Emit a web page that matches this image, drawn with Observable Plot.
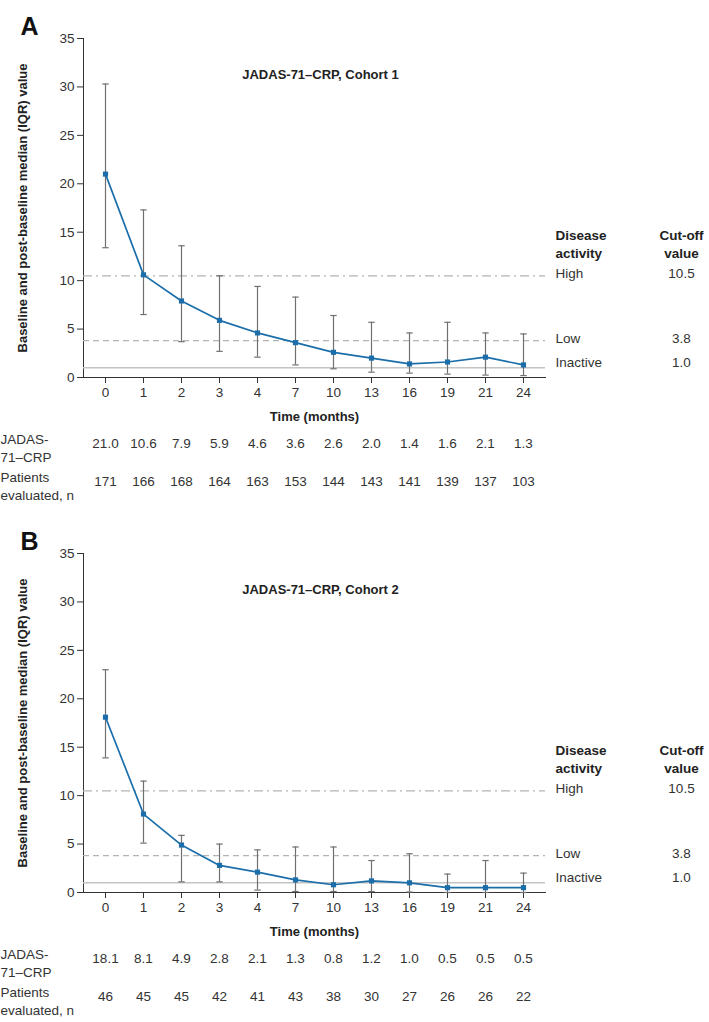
<!DOCTYPE html>
<html>
<head>
<meta charset="utf-8">
<script src="https://cdn.jsdelivr.net/npm/d3@7"></script>
<script src="https://cdn.jsdelivr.net/npm/@observablehq/plot@0.6"></script>
<style>
  body { margin: 0; background: #fff; }
  #chart { width: 709px; }
  #chart svg { display: block; }
</style>
</head>
<body>
<div id="chart"></div>
<script>
// ---- data ----
const months = ["0", "1", "2", "3", "4", "7", "10", "13", "16", "19", "21", "24"];

const medianA = [21.0, 10.6, 7.9, 5.9, 4.6, 3.6, 2.6, 2.0, 1.4, 1.6, 2.1, 1.3];
const q1A     = [13.4, 6.5, 3.7, 2.7, 2.1, 1.3, 0.9, 0.55, 0.45, 0.35, 0.25, 0.2];
const q3A     = [30.3, 17.3, 13.6, 10.5, 9.4, 8.3, 6.4, 5.7, 4.6, 5.7, 4.6, 4.5];
const nA      = [171, 166, 168, 164, 163, 153, 144, 143, 141, 139, 137, 103];

const medianB = [18.1, 8.1, 4.9, 2.8, 2.1, 1.3, 0.8, 1.2, 1.0, 0.5, 0.5, 0.5];
const q1B     = [13.9, 5.1, 1.1, 1.1, 0.25, 0.1, 0.1, 0.1, 0.05, 0.0, 0.0, 0.0];
const q3B     = [23.0, 11.5, 5.9, 5.0, 4.4, 4.7, 4.7, 3.3, 4.0, 1.9, 3.3, 2.0];
const nB      = [46, 45, 45, 42, 41, 43, 38, 30, 27, 26, 26, 22];

const cutoffLabels = ["High", "Low", "Inactive"];
const cutoffValues = [10.5, 3.8, 1.0];
const yTicks = [0, 5, 10, 15, 20, 25, 30, 35];

// ---- styles ----
const blue = "#1b6ea9";
const barGrey = "#707070";
const refStyles = [
  {stroke: "#b4b4b4", dash: "9,4,2,4", width: 1.2, labelDy: -2},
  {stroke: "#b4b4b4", dash: "6,4", width: 1.2, labelDy: -2},
  {stroke: "#c4c4c4", dash: null, width: 1.6, labelDy: -5}
];
const capSymbol = {
  draw(ctx) { ctx.moveTo(-3.2, 0); ctx.lineTo(3.2, 0); }
};
const FONT = "'Liberation Sans', Arial, Helvetica, sans-serif";

function panel({letter, title, median, q1, q3, n, height, marginTop}) {
  const data = months.map((m, i) => ({month: m, median: median[i], q1: q1[i], q3: q3[i], n: n[i]}));
  const cut = cutoffLabels.map((l, i) => ({label: l, value: cutoffValues[i], ...refStyles[i]}));
  const marginBottom = height - marginTop - 339;

  const refMarks = cut.map(c => Plot.ruleY([c.value], {
    stroke: c.stroke, strokeWidth: c.width, strokeDasharray: c.dash
  }));
  const refLabels = cut.map(c => Plot.text([c], {
    y: "value", text: "label", frameAnchor: "right", dx: 10, dy: c.labelDy,
    textAnchor: "start", fill: "#333", fontSize: 13.5
  }));
  const refValues = cut.map(c => Plot.text([c], {
    y: "value", text: d => d.value.toFixed(1), frameAnchor: "right", dx: 136, dy: c.labelDy,
    textAnchor: "middle", fill: "#333", fontSize: 13.5
  }));

  return Plot.plot({
    width: 709,
    height,
    marginTop,
    marginBottom,
    marginLeft: 83,
    marginRight: 164,
    style: {fontFamily: FONT, fontSize: "13.5px", color: "#333", background: "#fff", overflow: "visible"},
    x: {type: "point", domain: months, padding: 0.55, label: null, tickSize: 6, tickPadding: 4, line: true},
    y: {domain: [0, 35], ticks: yTicks, label: null, tickSize: 6, tickPadding: 3, line: true},
    marks: [
      ...refMarks,
      Plot.ruleX(data, {x: "month", y1: "q1", y2: "q3", stroke: barGrey, strokeWidth: 1.2}),
      Plot.dot(data, {x: "month", y: "q1", symbol: capSymbol, stroke: barGrey, strokeWidth: 1.2, fill: "none"}),
      Plot.dot(data, {x: "month", y: "q3", symbol: capSymbol, stroke: barGrey, strokeWidth: 1.2, fill: "none"}),
      Plot.line(data, {x: "month", y: "median", stroke: blue, strokeWidth: 1.7}),
      Plot.dot(data, {x: "month", y: "median", symbol: "square", r: 2.9, fill: blue, stroke: "none"}),
      ...refLabels,
      ...refValues,
      Plot.text(["Disease\nactivity"], {frameAnchor: "top-right", dx: 10, dy: 205, textAnchor: "start",
        lineAnchor: "middle", lineHeight: 1.3, fontWeight: "bold", fill: "#222", fontSize: 13.5}),
      Plot.text(["Cut-off\nvalue"], {frameAnchor: "top-right", dx: 136, dy: 205, textAnchor: "middle",
        lineAnchor: "middle", lineHeight: 1.3, fontWeight: "bold", fill: "#222", fontSize: 13.5}),
      Plot.text([title], {frameAnchor: "top", dx: 6, dy: 31, fontWeight: "bold", fill: "#222", fontSize: 13}),
      Plot.text([letter], {frameAnchor: "top-left", dx: -63, dy: -21, textAnchor: "start",
        fontWeight: "bold", fill: "#111", fontSize: 25}),
      Plot.text(["Baseline and post-baseline median (IQR) value"], {frameAnchor: "left", dx: -61,
        rotate: -90, textAnchor: "middle", fontWeight: "bold", fill: "#222", fontSize: 13}),
      Plot.text(["Time (months)"], {frameAnchor: "bottom", dy: 43, fontWeight: "bold", fill: "#222", fontSize: 13}),
      Plot.text(["JADAS-\n71–CRP"], {frameAnchor: "bottom-left", dx: -83, dy: 70, textAnchor: "start",
        lineAnchor: "middle", lineHeight: 1.3, fill: "#333", fontSize: 13.5}),
      Plot.text(data, {x: "month", text: d => d.median.toFixed(1), frameAnchor: "bottom", dy: 70, fill: "#333", fontSize: 13.5}),
      Plot.text(["Patients\nevaluated, n"], {frameAnchor: "bottom-left", dx: -83, dy: 108, textAnchor: "start",
        lineAnchor: "middle", lineHeight: 1.3, fill: "#333", fontSize: 13.5}),
      Plot.text(data, {x: "month", text: d => String(d.n), frameAnchor: "bottom", dy: 108, fill: "#333", fontSize: 13.5})
    ]
  });
}

const root = document.getElementById("chart");
root.append(panel({letter: "A", title: "JADAS-71–CRP, Cohort 1", median: medianA, q1: q1A, q3: q3A, n: nA, height: 516, marginTop: 38}));
root.append(panel({letter: "B", title: "JADAS-71–CRP, Cohort 2", median: medianB, q1: q1B, q3: q3B, n: nB, height: 506, marginTop: 37}));
</script>
</body>
</html>
